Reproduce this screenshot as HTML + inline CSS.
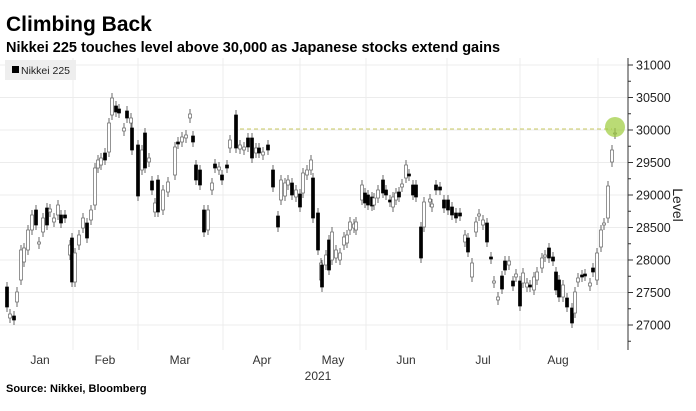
<!DOCTYPE html>
<html><head><meta charset="utf-8"><style>
body{margin:0;background:#fff;width:696px;height:406px;overflow:hidden;font-family:"Liberation Sans",sans-serif}
</style></head><body>
<svg id="s" width="696" height="406" xmlns="http://www.w3.org/2000/svg" font-family="Liberation Sans, sans-serif">
<text x="6" y="31" font-size="21" font-weight="bold" fill="#000">Climbing Back</text>
<text x="6" y="52" font-size="14.5" font-weight="bold" fill="#000">Nikkei 225 touches level above 30,000 as Japanese stocks extend gains</text>
<g id="grid"></g>
<rect x="5" y="60" width="71" height="20" fill="#eee"/>
<rect x="12" y="66" width="7" height="7" fill="#000"/>
<text x="21" y="74" font-size="10.5" fill="#222">Nikkei 225</text>
<line x1="240" y1="129" x2="612" y2="129" stroke="#c8c860" stroke-width="1" stroke-dasharray="4,3"/>
<g id="c"></g>
<circle cx="615" cy="127" r="10" fill="#9ccc3a" opacity="0.7"/>
<line x1="628" y1="58" x2="628" y2="350" stroke="#333"/>
<g id="ax" font-size="12.5" fill="#222"></g>
<text transform="translate(673,205) rotate(90)" font-size="14" fill="#222" text-anchor="middle">Level</text>
<g font-size="12" fill="#333" text-anchor="middle">
<text x="40" y="364">Jan</text><text x="105" y="364">Feb</text><text x="180" y="364">Mar</text><text x="262" y="364">Apr</text><text x="333" y="364">May</text><text x="406" y="364">Jun</text><text x="483" y="364">Jul</text><text x="558" y="364">Aug</text>
<text x="318" y="380">2021</text></g>
<text x="6" y="392" font-size="11" font-weight="bold" fill="#000">Source: Nikkei, Bloomberg</text>
</svg>
<script>
var ns="http://www.w3.org/2000/svg";
function el(p,t,a){var e=document.createElementNS(ns,t);for(var k in a)e.setAttribute(k,a[k]);p.appendChild(e);return e;}
var g=document.getElementById('grid'),ax=document.getElementById('ax'),c=document.getElementById('c');
for(var v=27000;v<=31000;v+=500){var y=65+(31000-v)*0.065;el(g,'line',{x1:0,x2:628,y1:y,y2:y,stroke:'#ececec'});
var t=el(ax,'text',{x:636,y:y+4.5});t.textContent=v;el(ax,'line',{x1:628,x2:633,y1:y,y2:y,stroke:'#333'});}
for(var v=26750;v<=31000;v+=250){var y=65+(31000-v)*0.065;el(ax,'line',{x1:628,x2:631,y1:y,y2:y,stroke:'#333'});}
[73,138,223,300,366,447,520,598].forEach(function(x){el(g,'line',{x1:x,x2:x,y1:58,y2:350,stroke:'#ececec'});});
var d=[[7,287,307,1],[10,314,318,0],[14,316,320,1],[17,292,302,0],[21,250,280,0],[24,248,262,0],[28,230,250,0],[32,215,230,0],[36,210,225,1],[39,242,244,0],[43,218,232,0],[47,208,225,1],[50,209,212,0],[54,218,222,0],[58,205,215,0],[61,215,223,1],[65,215,218,1],[70,245,255,0],[72,238,282,1],[75,253,282,0],[79,235,245,0],[83,218,228,0],[87,223,238,1],[91,210,220,0],[95,168,205,0],[98,160,168,0],[101,158,165,0],[105,153,160,1],[109,123,152,0],[112,98,115,0],[116,106,112,1],[119,109,113,1],[124,128,131,0],[127,111,118,1],[131,118,123,0],[132,128,150,1],[138,145,196,1],[142,150,170,0],[145,133,168,1],[149,158,162,0],[152,181,190,1],[155,203,212,0],[158,180,212,1],[163,190,210,0],[168,182,192,0],[175,147,175,0],[178,142,144,1],[182,137,142,0],[186,135,138,0],[190,114,118,0],[193,136,142,1],[196,165,180,1],[200,170,185,1],[204,210,232,1],[208,210,230,0],[212,183,190,0],[215,164,168,1],[219,167,170,0],[222,175,180,1],[227,165,168,1],[230,140,148,0],[236,115,148,1],[240,145,149,0],[244,147,150,0],[248,138,147,1],[252,138,158,1],[256,148,153,0],[259,148,153,1],[263,152,155,0],[268,145,150,1],[273,170,187,1],[278,216,227,1],[281,180,200,0],[285,183,196,0],[288,180,185,0],[292,183,195,1],[296,190,197,0],[300,194,207,1],[303,173,193,0],[307,170,175,0],[311,160,170,0],[313,178,218,1],[318,213,250,1],[321,263,280,0],[322,265,287,1],[326,255,265,0],[329,240,270,1],[332,232,260,0],[336,250,258,0],[340,253,260,0],[344,237,245,0],[347,235,243,0],[350,222,230,0],[354,224,228,0],[356,222,230,0],[362,185,200,0],[365,193,203,1],[368,195,205,1],[372,197,206,1],[374,198,205,0],[378,190,198,0],[383,180,193,1],[386,190,195,1],[390,200,202,1],[393,197,207,0],[396,193,200,0],[399,192,197,1],[402,184,187,0],[406,165,178,0],[409,174,176,1],[413,185,195,1],[416,185,197,1],[421,227,258,1],[424,202,227,0],[430,199,202,0],[432,204,207,0],[436,185,190,1],[440,187,190,1],[444,200,208,1],[448,200,210,1],[452,207,215,1],[456,213,218,1],[460,213,216,1],[465,235,242,0],[468,238,252,1],[472,263,277,0],[476,222,232,0],[479,214,216,0],[483,220,225,0],[487,223,242,1],[491,257,259,1],[494,281,283,0],[498,297,300,0],[502,276,289,1],[505,261,270,1],[509,261,265,0],[513,281,286,1],[516,274,277,0],[520,281,306,1],[523,273,283,0],[527,283,287,0],[530,285,287,1],[534,277,290,0],[537,272,280,0],[542,258,268,0],[545,255,257,0],[549,248,258,1],[553,257,261,1],[556,272,290,1],[559,280,297,1],[563,285,297,0],[567,298,307,1],[572,308,323,1],[575,292,313,0],[578,278,282,0],[582,275,277,1],[585,274,276,1],[590,283,286,0],[593,268,272,1],[597,253,280,0],[601,230,247,0],[604,223,225,0],[608,186,218,0],[612,150,162,0],[615,133,134,0]];
d.forEach(function(r){var x=r[0];el(c,'line',{x1:x,x2:x,y1:r[1]-5,y2:r[2]+5,stroke:'#444','stroke-width':0.8});
el(c,'rect',{x:x-1.5,y:r[1],width:3,height:Math.max(1,r[2]-r[1]),fill:r[3]?'#000':'#fff',stroke:r[3]?'#000':'#666','stroke-width':0.7});});
</script>
</body></html>
